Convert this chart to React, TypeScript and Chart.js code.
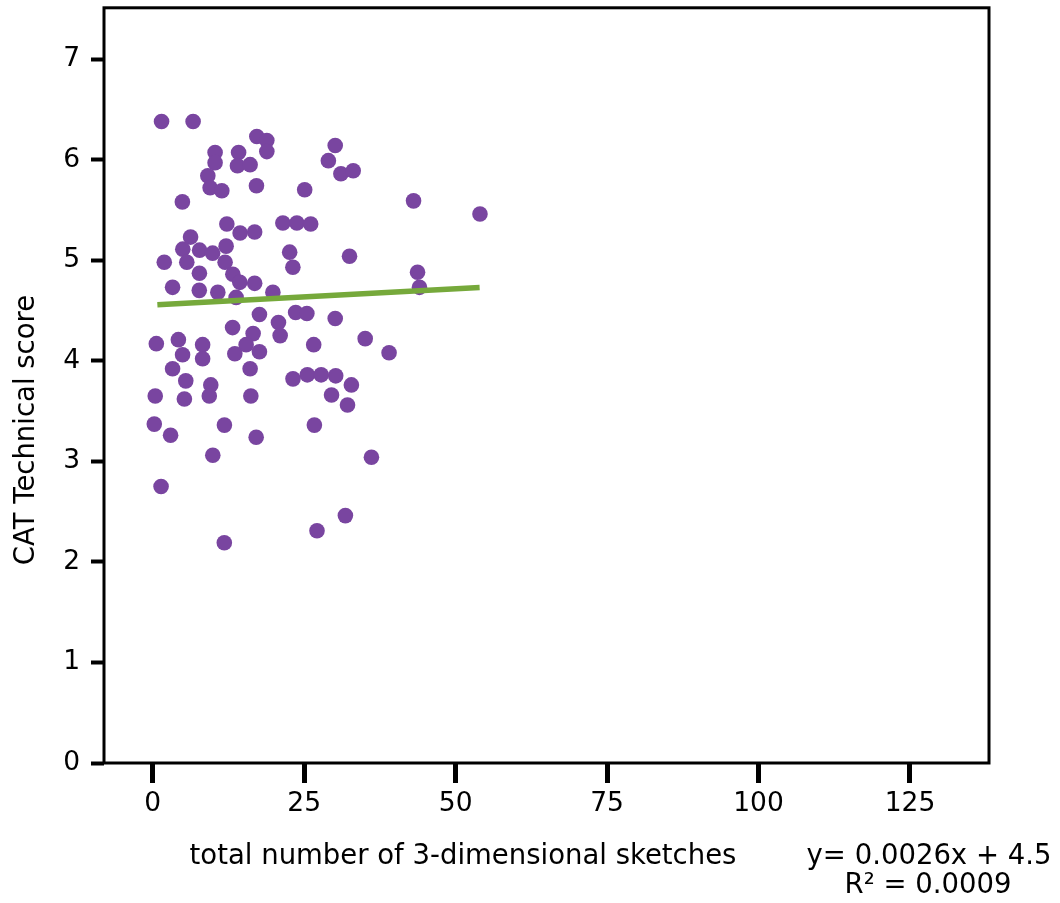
import React, { useEffect, useRef } from "react";
import { Chart, registerables } from "chart.js";

Chart.register(...registerables);

// total number of 3-dimensional sketches
const SKETCHES: number[] = [
  1.45, 6.66, 17.18, 18.83, 18.83, 10.29, 14.17, 10.29, 13.98, 16.07,
  9.09, 9.47, 11.4, 17.12, 25.08, 4.89, 12.23, 21.48, 23.79, 26.07,
  14.42, 16.82, 6.24, 4.96, 7.73, 9.88, 12.11, 22.6, 23.13, 1.9,
  5.62, 7.7, 11.94, 13.22, 14.37, 16.82, 3.27, 7.68, 10.74, 13.76,
  19.83, 30.12, 28.99, 31.06, 33.09, 43.05, 54.02, 32.48, 43.71, 44.03,
  17.61, 20.75, 21.03, 23.59, 25.44, 30.12, 13.18, 16.57, 15.41, 17.61,
  13.55, 16.07, 0.59, 4.23, 8.23, 4.92, 8.23, 3.27, 5.45, 9.58,
  0.41, 5.22, 9.33, 16.19, 26.57, 35.07, 39.01, 23.15, 25.52, 27.8,
  30.2, 32.79, 29.51, 32.15, 0.25, 2.94, 11.83, 17.07, 26.68, 9.91,
  36.1, 1.37, 31.8, 27.11, 11.81,
];

// CAT Technical score
const SCORES: number[] = [
  6.38, 6.38, 6.23, 6.19, 6.08, 6.07, 6.07, 5.97, 5.94, 5.95,
  5.84, 5.72, 5.69, 5.74, 5.7, 5.58, 5.36, 5.37, 5.37, 5.36,
  5.27, 5.28, 5.23, 5.11, 5.1, 5.07, 5.14, 5.08, 4.93, 4.98,
  4.98, 4.87, 4.98, 4.86, 4.78, 4.77, 4.73, 4.7, 4.68, 4.63,
  4.68, 6.14, 5.99, 5.86, 5.89, 5.59, 5.46, 5.04, 4.88, 4.73,
  4.46, 4.38, 4.25, 4.48, 4.47, 4.42, 4.33, 4.27, 4.16, 4.09,
  4.07, 3.92, 4.17, 4.21, 4.16, 4.06, 4.02, 3.92, 3.8, 3.76,
  3.65, 3.62, 3.65, 3.65, 4.16, 4.22, 4.08, 3.82, 3.86, 3.86,
  3.85, 3.76, 3.66, 3.56, 3.37, 3.26, 3.36, 3.24, 3.36, 3.06,
  3.04, 2.75, 2.46, 2.31, 2.19,
];

// fitted trend line end points
const TREND_X: number[] = [0.76, 53.96];
const TREND_Y: number[] = [4.556, 4.728];

const X_TICKS: number[] = [0, 25, 50, 75, 100, 125];
const Y_TICKS: number[] = [0, 1, 2, 3, 4, 5, 6, 7];

const X_TITLE = "total number of 3-dimensional sketches";
const Y_TITLE = "CAT Technical score";
const EQUATION = "y= 0.0026x + 4.5";
const R_SQUARED = "R\u00B2 = 0.0009";

const FONT = "'DejaVu Sans', Verdana, sans-serif";

export default function App() {
  const ref = useRef<HTMLCanvasElement | null>(null);

  useEffect(() => {
    if (!ref.current) return;

    const boxPlugin = {
      id: "boxAndTexts",
      beforeDatasetsDraw(chart: any) {
        const { ctx, chartArea } = chart;
        ctx.save();
        ctx.strokeStyle = "#000";
        ctx.lineWidth = 3;
        ctx.strokeRect(
          chartArea.left,
          chartArea.top,
          chartArea.right - chartArea.left,
          chartArea.bottom - chartArea.top
        );
        ctx.restore();
      },
      afterDraw(chart: any) {
        const { ctx } = chart;
        ctx.save();
        ctx.fillStyle = "#000";
        ctx.font = `27.5px ${FONT}`;
        ctx.textAlign = "center";
        ctx.textBaseline = "middle";
        ctx.fillText(X_TITLE, 463, 857);
        ctx.fillText(EQUATION, 929, 857);
        ctx.fillText(R_SQUARED, 928, 886);
        ctx.translate(27, 430);
        ctx.rotate(-Math.PI / 2);
        ctx.fillText(Y_TITLE, 0, 0);
        ctx.restore();
      },
    };

    const chart = new Chart(ref.current, {
      type: "scatter",
      data: {
        datasets: [
          {
            type: "line",
            data: TREND_X.map((x, i) => ({ x, y: TREND_Y[i] })),
            borderColor: "#76a93b",
            borderWidth: 5.5,
            pointRadius: 0,
            fill: false,
            order: 0,
          } as any,
          {
            type: "scatter",
            data: SKETCHES.map((x, i) => ({ x, y: SCORES[i] })),
            backgroundColor: "#7945a0",
            borderWidth: 0,
            pointRadius: 7.8,
            order: 1,
          } as any,
        ],
      },
      options: {
        responsive: false,
        animation: false,
        events: [],
        layout: { padding: { top: 7, right: 71, left: 0, bottom: 0 } },
        plugins: {
          legend: { display: false },
          tooltip: { enabled: false },
        },
        scales: {
          x: {
            type: "linear",
            min: -8.05,
            max: 138.05,
            afterBuildTicks: (s: any) => {
              s.ticks = X_TICKS.map((v) => ({ value: v }));
            },
            afterFit: (s: any) => {
              s.height = 140;
              s.paddingLeft = 0;
              s.paddingRight = 0;
            },
            border: { display: false },
            grid: {
              drawOnChartArea: false,
              drawTicks: true,
              tickLength: 20,
              tickWidth: 5,
              tickColor: "#000",
            },
            ticks: {
              color: "#000",
              font: { family: FONT, size: 26.5 },
              padding: 5,
              maxRotation: 0,
              autoSkip: false,
            },
          },
          y: {
            type: "linear",
            min: 0,
            max: 7.51,
            afterBuildTicks: (s: any) => {
              s.ticks = Y_TICKS.map((v) => ({ value: v }));
            },
            afterFit: (s: any) => {
              s.width = 104;
              s.paddingTop = 0;
              s.paddingBottom = 0;
            },
            border: { display: false },
            grid: {
              drawOnChartArea: false,
              drawTicks: true,
              tickLength: 13,
              tickWidth: 4,
              tickColor: "#000",
            },
            ticks: {
              color: "#000",
              font: { family: FONT, size: 26.5 },
              padding: 11,
              autoSkip: false,
            },
          },
        },
      },
      plugins: [boxPlugin],
    });

    return () => chart.destroy();
  }, []);

  return (
    <div style={{ position: "absolute", left: 0, top: 0, width: 1060, height: 903, background: "#fff" }}>
      <canvas ref={ref} width={1060} height={903} style={{ display: "block" }} />
    </div>
  );
}
